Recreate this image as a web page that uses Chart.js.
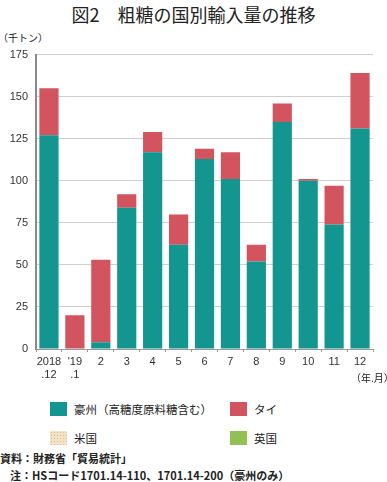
<!DOCTYPE html>
<html>
<head>
<meta charset="utf-8">
<script src="https://cdn.jsdelivr.net/npm/chart.js@4"></script>
<style>
  body { margin: 0; background: #fff; font-family: "Liberation Sans", "Noto Sans CJK JP", sans-serif; color: #222; }
  #wrap { position: relative; width: 387px; height: 482px; overflow: hidden; }
  #title { position: absolute; top: 1px; left: 0; width: 387px; text-align: center; font-size: 18px; font-family: "Noto Sans CJK JP", sans-serif; }
  #unit { position: absolute; top: 30px; left: -2px; font-size: 10px; font-family: "Noto Sans CJK JP", sans-serif; }
  #box { position: absolute; top: 40px; left: 0; width: 387px; height: 350px; }
  #ym { position: absolute; top: 370px; left: 351px; font-size: 10px; white-space: nowrap; font-family: "Noto Sans CJK JP", sans-serif; }
  .lg { position: absolute; font-size: 11.5px; font-family: "Noto Sans CJK JP", sans-serif; display: flex; align-items: center; white-space: nowrap; }
  .sw { width: 17px; height: 14px; margin-right: 7px; }
  .note { position: absolute; left: 0; font-size: 11px; font-weight: bold; white-space: nowrap; font-family: "Noto Sans CJK JP", sans-serif; }
</style>
</head>
<body>
<div id="wrap">
  <div id="title">図2　粗糖の国別輸入量の推移</div>
  <div id="unit">（千トン）</div>
  <div id="box"><canvas id="chart"></canvas></div>
  <div id="ym">（年.月）</div>
  <div id="legend"></div>
  <div class="note" style="top:450px">資料：財務省「貿易統計」</div>
  <div class="note" style="top:467px; left:10px">注：HSコード1701.14-110、1701.14-200（豪州のみ）</div>
</div>
<script>
// 月ラベル（2行）
const labels = [
    ['2018', '.12'], ['\'19', '.1'], '2', '3', '4', '5', '6', '7', '8', '9', '10', '11', '12'
];

// 国別輸入量（千トン）
const australia = [127, 0, 4, 84, 117, 62, 113, 101, 52, 135, 100, 74, 131];
const thailand  = [28, 20, 49, 8, 12, 18, 6, 16, 10, 11, 1, 23, 33];
const usa       = [0, 0, 0, 0, 0, 0, 0, 0, 0, 0, 0, 0, 0];
const uk        = [0, 0, 0, 0, 0, 0, 0, 0, 0, 0, 0, 0, 0];

const yTicks = [0, 25, 50, 75, 100, 125, 150, 175];

const series = [
    { name: '豪州（高糖度原料糖含む）', data: australia, color: '#139690' },
    { name: 'タイ', data: thailand, color: '#d2545e' },
    { name: '米国', data: usa, color: '#f3e3c6' },
    { name: '英国', data: uk, color: '#93c052' },
];

const tickFont = { family: '"Liberation Sans", "Noto Sans CJK JP", sans-serif', size: 11 };

new Chart(document.getElementById('chart'), {
    type: 'bar',
    data: {
        labels: labels,
        datasets: series.map(s => ({
            label: s.name,
            data: s.data,
            backgroundColor: s.color,
            borderWidth: 0,
            barPercentage: 0.74,
            categoryPercentage: 1
        }))
    },
    options: {
        responsive: true,
        maintainAspectRatio: false,
        animation: false,
        layout: { padding: { top: 13, right: 14, left: 0, bottom: 0 } },
        plugins: { legend: { display: false }, tooltip: { enabled: false } },
        scales: {
            x: {
                stacked: true,
                grid: { drawOnChartArea: false, color: '#999', tickLength: 3, offset: true },
                border: { color: '#999', width: 1 },
                ticks: { color: '#333', font: tickFont, maxRotation: 0, autoSkip: false, padding: 3 },
                afterFit: s => { s.height = 41; }
            },
            y: {
                stacked: true,
                min: 0, max: 175,
                afterBuildTicks: s => { s.ticks = yTicks.map(v => ({ value: v })); },
                grid: { color: '#cfcfcf', drawTicks: false },
                border: { color: '#8a8a8a', width: 2 },
                ticks: { color: '#333', font: tickFont, padding: 8 },
                afterFit: s => { s.width = 36; }
            }
        }
    }
});

// 凡例（2列）
const legendPos = [[50, 401], [230, 401], [50, 430], [230, 430]];
const legendEl = document.getElementById('legend');
series.forEach((s, i) => {
    const d = document.createElement('div');
    d.className = 'lg';
    d.style.left = legendPos[i][0] + 'px';
    d.style.top = legendPos[i][1] + 'px';
    const sw = document.createElement('div');
    sw.className = 'sw';
    sw.style.background = s.color;
    if (i === 2) {
        sw.style.backgroundImage = 'radial-gradient(#d9bf93 0.8px, transparent 1px)';
        sw.style.backgroundSize = '3px 3px';
    }
    d.appendChild(sw);
    d.appendChild(document.createTextNode(s.name));
    legendEl.appendChild(d);
});
</script>
</body>
</html>
